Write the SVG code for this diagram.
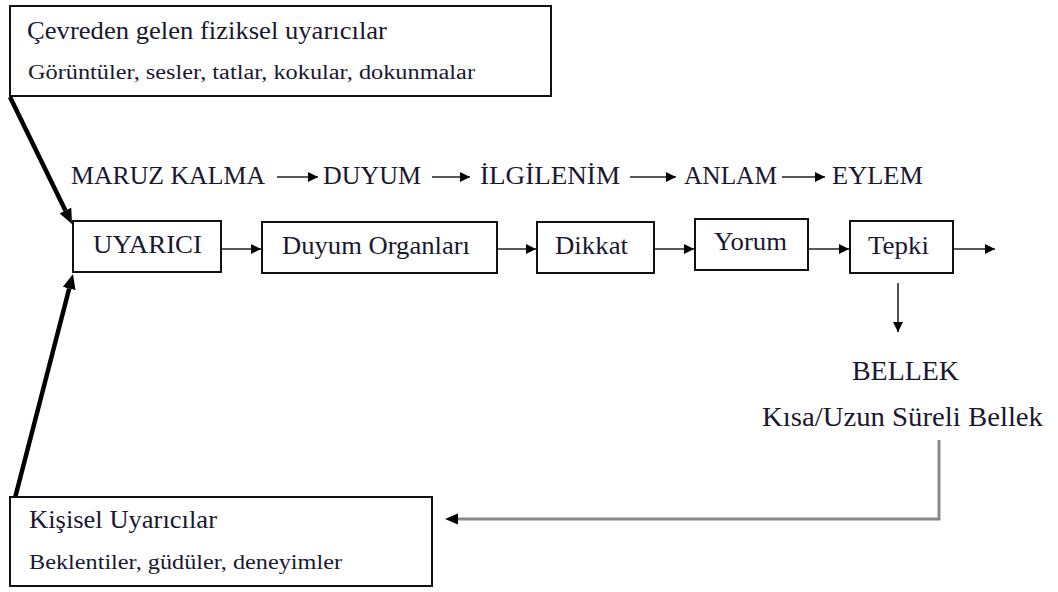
<svg xmlns="http://www.w3.org/2000/svg" width="1058" height="592" viewBox="0 0 1058 592">
<style>
.box{fill:#fff;stroke:#111;stroke-width:2}
.t{font-family:"Liberation Serif","Times New Roman",serif;fill:#1a1830}
.big{font-size:25px}
.lg{font-size:27px}
.sm{font-size:20px}
.ln{stroke:#222;stroke-width:1.6;fill:none}
.thick{stroke:#000;stroke-width:4.5;fill:none}
.gray{stroke:#8a8a8a;stroke-width:3;fill:none}
</style>
<defs>
<marker id="ah" viewBox="0 0 10 10" refX="10" refY="5" markerWidth="12" markerHeight="10" markerUnits="userSpaceOnUse" orient="auto"><path d="M0,0 L10,5 L0,10 z" fill="#000"/></marker>
<marker id="ahT" viewBox="0 0 10 10" refX="0" refY="5" markerWidth="15" markerHeight="13" markerUnits="userSpaceOnUse" orient="auto" preserveAspectRatio="none"><path d="M0,0 L10,5 L0,10 z" fill="#000"/></marker>
</defs>
<g id="connectors">
<line class="thick" x1="10" y1="97" x2="65.4" y2="210.5" marker-end="url(#ahT)"/>
<line class="thick" x1="15" y1="498" x2="69.2" y2="288.5" marker-end="url(#ahT)"/>
<line class="ln" x1="277" y1="177" x2="318" y2="177" marker-end="url(#ah)"/>
<line class="ln" x1="432" y1="177" x2="470" y2="177" marker-end="url(#ah)"/>
<line class="ln" x1="630" y1="177" x2="676" y2="177" marker-end="url(#ah)"/>
<line class="ln" x1="782" y1="177" x2="825" y2="177" marker-end="url(#ah)"/>
<line class="ln" x1="221" y1="249" x2="261" y2="249" marker-end="url(#ah)"/>
<line class="ln" x1="498" y1="249" x2="536" y2="249" marker-end="url(#ah)"/>
<line class="ln" x1="655" y1="249" x2="694" y2="249" marker-end="url(#ah)"/>
<line class="ln" x1="809" y1="249" x2="849" y2="249" marker-end="url(#ah)"/>
<line class="ln" x1="954" y1="249" x2="995" y2="249" marker-end="url(#ah)"/>
<line class="ln" x1="898" y1="283" x2="898" y2="332" marker-end="url(#ah)"/>
<path class="gray" d="M939,440 L939,519 L458,519"/>
<path d="M445,519 L458,513.5 L458,524.5 z" fill="#000"/>
</g>
<g id="top-box">
<rect class="box" x="10" y="6" width="541" height="90"/>
<text class="t big" x="27" y="39" textLength="360" lengthAdjust="spacingAndGlyphs">Çevreden gelen fiziksel uyarıcılar</text>
<text class="t sm" x="28" y="79" textLength="447" lengthAdjust="spacingAndGlyphs">Görüntüler, sesler, tatlar, kokular, dokunmalar</text>
</g>
<g id="stages">
<text class="t big" x="71" y="184" textLength="194" lengthAdjust="spacingAndGlyphs">MARUZ KALMA</text>
<text class="t big" x="323" y="184" textLength="98" lengthAdjust="spacingAndGlyphs">DUYUM</text>
<text class="t big" x="480" y="184" textLength="140" lengthAdjust="spacingAndGlyphs">İLGİLENİM</text>
<text class="t big" x="684" y="184" textLength="93" lengthAdjust="spacingAndGlyphs">ANLAM</text>
<text class="t big" x="832" y="184" textLength="91" lengthAdjust="spacingAndGlyphs">EYLEM</text>
</g>
<g id="uyarici">
<rect class="box" x="73" y="221" width="148" height="51"/>
<text class="t big" x="93" y="253" textLength="109" lengthAdjust="spacingAndGlyphs">UYARICI</text>
</g>
<g id="duyum-organlari">
<rect class="box" x="262" y="222" width="235" height="51"/>
<text class="t big" x="282" y="254" textLength="188" lengthAdjust="spacingAndGlyphs">Duyum Organları</text>
</g>
<g id="dikkat">
<rect class="box" x="537" y="222" width="117" height="51"/>
<text class="t big" x="555" y="254" textLength="73" lengthAdjust="spacingAndGlyphs">Dikkat</text>
</g>
<g id="yorum">
<rect class="box" x="695" y="219" width="113" height="51"/>
<text class="t big" x="714" y="250" textLength="73" lengthAdjust="spacingAndGlyphs">Yorum</text>
</g>
<g id="tepki">
<rect class="box" x="850" y="221" width="103" height="52"/>
<text class="t big" x="868" y="254" textLength="61" lengthAdjust="spacingAndGlyphs">Tepki</text>
</g>
<g id="bellek">
<text class="t lg" x="852" y="380" textLength="107" lengthAdjust="spacingAndGlyphs">BELLEK</text>
<text class="t lg" x="762" y="426" textLength="281" lengthAdjust="spacingAndGlyphs">Kısa/Uzun Süreli Bellek</text>
</g>
<g id="bottom-box">
<rect class="box" x="10" y="497" width="422" height="89"/>
<text class="t big" x="29" y="528" textLength="188" lengthAdjust="spacingAndGlyphs">Kişisel Uyarıcılar</text>
<text class="t sm" x="29" y="569" textLength="313" lengthAdjust="spacingAndGlyphs">Beklentiler, güdüler, deneyimler</text>
</g>
</svg>
